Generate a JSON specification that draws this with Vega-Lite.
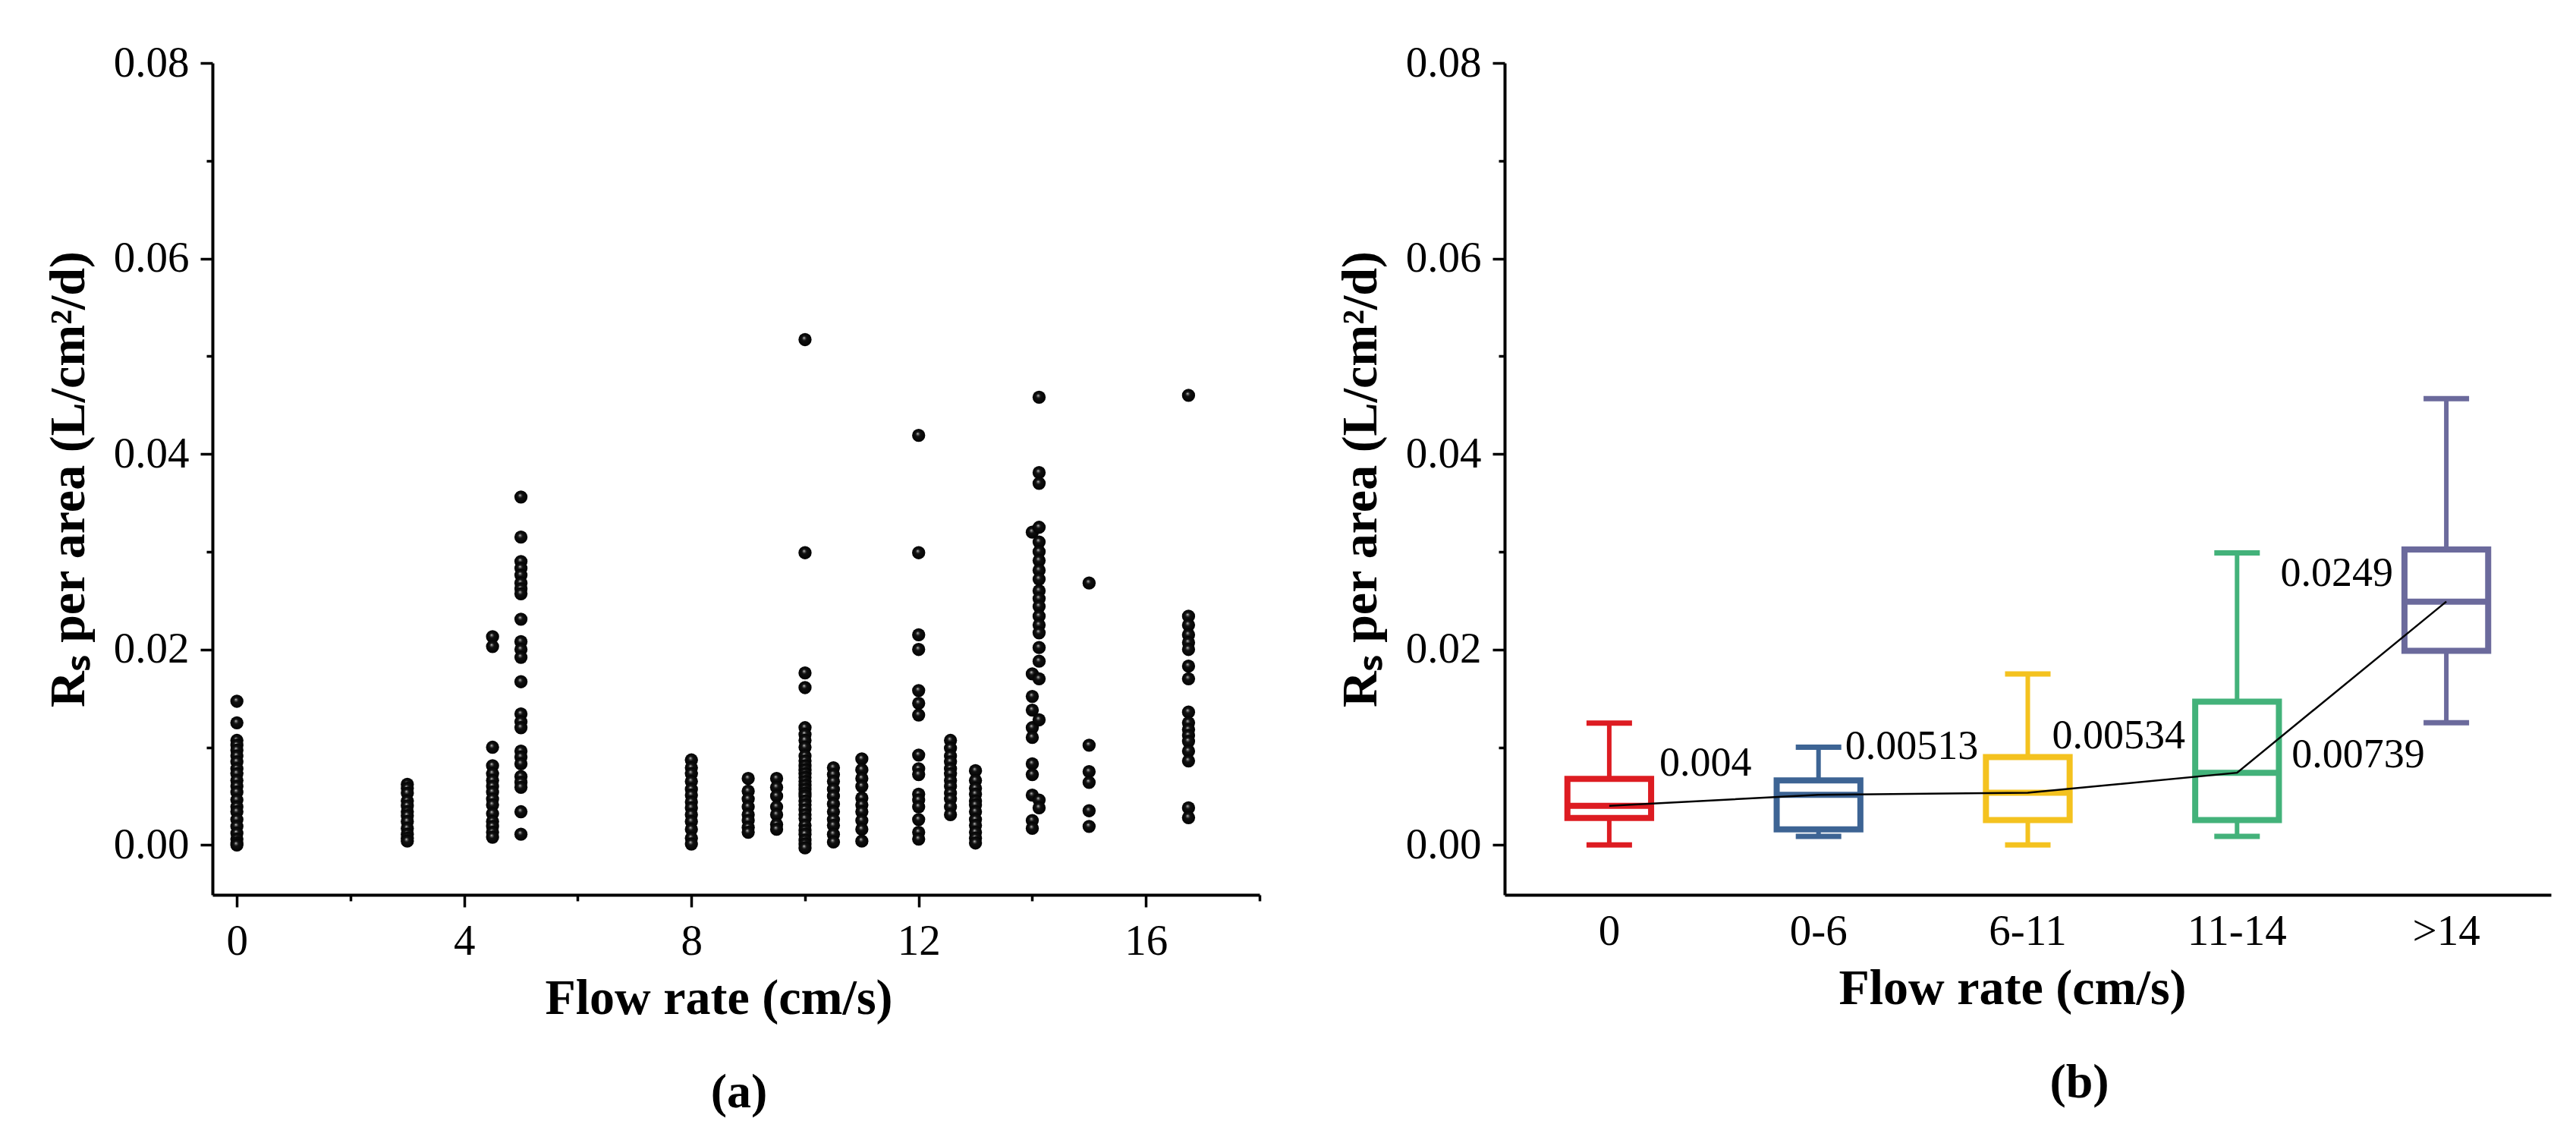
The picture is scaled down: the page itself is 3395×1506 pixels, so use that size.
{
  "$schema": "https://vega.github.io/schema/vega-lite/v6.json",
  "background": "white",
  "padding": {"left": 57, "top": 54, "right": 20, "bottom": 10},
  "spacing": 98,
  "config": {
    "font": "Liberation Serif",
    "view": {"stroke": null},
    "axis": {
      "grid": false,
      "domainColor": "black",
      "domainWidth": 4,
      "tickColor": "black",
      "tickWidth": 3.5,
      "labelColor": "black",
      "labelFont": "Liberation Serif",
      "labelFontSize": 57,
      "titleFont": "Liberation Serif",
      "titleFontSize": 66,
      "titleFontWeight": "bold",
      "titleColor": "black"
    },
    "title": {"font": "Liberation Serif", "fontSize": 64, "fontWeight": "bold", "color": "black"}
  },
  "hconcat": [
    {
      "width": 1380,
      "height": 1096,
      "title": {"text": "(a)", "orient": "bottom", "anchor": "middle", "frame": "group", "offset": 60, "dx": 4},
      "data": {
        "values": [
          {"x": 0, "y": 0.0147}, {"x": 0, "y": 0.0125}, {"x": 0, "y": 0.0107}, {"x": 0, "y": 0.0102}, {"x": 0, "y": 0.0097}, {"x": 0, "y": 0.0091}, {"x": 0, "y": 0.0085}, {"x": 0, "y": 0.0078}, {"x": 0, "y": 0.0073}, {"x": 0, "y": 0.0066}, {"x": 0, "y": 0.006}, {"x": 0, "y": 0.0054}, {"x": 0, "y": 0.0046}, {"x": 0, "y": 0.0039}, {"x": 0, "y": 0.0034}, {"x": 0, "y": 0.0026}, {"x": 0, "y": 0.0019}, {"x": 0, "y": 0.0012}, {"x": 0, "y": 0.0006}, {"x": 0, "y": 0.0002}, {"x": 0, "y": 0.0},
          {"x": 3, "y": 0.0062}, {"x": 3, "y": 0.0058}, {"x": 3, "y": 0.0053}, {"x": 3, "y": 0.0045}, {"x": 3, "y": 0.004}, {"x": 3, "y": 0.0034}, {"x": 3, "y": 0.003}, {"x": 3, "y": 0.0024}, {"x": 3, "y": 0.0017}, {"x": 3, "y": 0.0011}, {"x": 3, "y": 0.0007}, {"x": 3, "y": 0.0004},
          {"x": 4.5, "y": 0.0213}, {"x": 4.5, "y": 0.0203}, {"x": 4.5, "y": 0.01}, {"x": 4.5, "y": 0.0081}, {"x": 4.5, "y": 0.0073}, {"x": 4.5, "y": 0.0066}, {"x": 4.5, "y": 0.006}, {"x": 4.5, "y": 0.0054}, {"x": 4.5, "y": 0.0047}, {"x": 4.5, "y": 0.0041}, {"x": 4.5, "y": 0.0032}, {"x": 4.5, "y": 0.0024}, {"x": 4.5, "y": 0.0019}, {"x": 4.5, "y": 0.0013}, {"x": 4.5, "y": 0.0008},
          {"x": 5, "y": 0.0356}, {"x": 5, "y": 0.0315}, {"x": 5, "y": 0.029}, {"x": 5, "y": 0.0283}, {"x": 5, "y": 0.0276}, {"x": 5, "y": 0.0268}, {"x": 5, "y": 0.0262}, {"x": 5, "y": 0.0257}, {"x": 5, "y": 0.0231}, {"x": 5, "y": 0.0208}, {"x": 5, "y": 0.02}, {"x": 5, "y": 0.0192}, {"x": 5, "y": 0.0167}, {"x": 5, "y": 0.0134}, {"x": 5, "y": 0.0126}, {"x": 5, "y": 0.012}, {"x": 5, "y": 0.0096}, {"x": 5, "y": 0.009}, {"x": 5, "y": 0.0083}, {"x": 5, "y": 0.007}, {"x": 5, "y": 0.0064}, {"x": 5, "y": 0.0059}, {"x": 5, "y": 0.0034}, {"x": 5, "y": 0.0011},
          {"x": 8, "y": 0.0087}, {"x": 8, "y": 0.0079}, {"x": 8, "y": 0.0073}, {"x": 8, "y": 0.0065}, {"x": 8, "y": 0.0057}, {"x": 8, "y": 0.0051}, {"x": 8, "y": 0.0044}, {"x": 8, "y": 0.0038}, {"x": 8, "y": 0.0031}, {"x": 8, "y": 0.0024}, {"x": 8, "y": 0.0016}, {"x": 8, "y": 0.0007}, {"x": 8, "y": 0.0001},
          {"x": 9, "y": 0.0068}, {"x": 9, "y": 0.0055}, {"x": 9, "y": 0.0047}, {"x": 9, "y": 0.0039}, {"x": 9, "y": 0.0031}, {"x": 9, "y": 0.0025}, {"x": 9, "y": 0.0018}, {"x": 9, "y": 0.0013},
          {"x": 9.5, "y": 0.0068}, {"x": 9.5, "y": 0.0059}, {"x": 9.5, "y": 0.005}, {"x": 9.5, "y": 0.0039}, {"x": 9.5, "y": 0.0031}, {"x": 9.5, "y": 0.0021}, {"x": 9.5, "y": 0.0016},
          {"x": 10, "y": 0.0517}, {"x": 10, "y": 0.0299}, {"x": 10, "y": 0.0176}, {"x": 10, "y": 0.0161}, {"x": 10, "y": 0.012}, {"x": 10, "y": 0.0113}, {"x": 10, "y": 0.0107}, {"x": 10, "y": 0.01}, {"x": 10, "y": 0.0091}, {"x": 10, "y": 0.0086}, {"x": 10, "y": 0.0081}, {"x": 10, "y": 0.0077}, {"x": 10, "y": 0.0073}, {"x": 10, "y": 0.0069}, {"x": 10, "y": 0.0065}, {"x": 10, "y": 0.0061}, {"x": 10, "y": 0.0057}, {"x": 10, "y": 0.0053}, {"x": 10, "y": 0.005}, {"x": 10, "y": 0.0045}, {"x": 10, "y": 0.0041}, {"x": 10, "y": 0.0036}, {"x": 10, "y": 0.0031}, {"x": 10, "y": 0.0027}, {"x": 10, "y": 0.002}, {"x": 10, "y": 0.0015}, {"x": 10, "y": 0.0011}, {"x": 10, "y": 0.0005}, {"x": 10, "y": 0.0001}, {"x": 10, "y": -0.0003},
          {"x": 10.5, "y": 0.0079}, {"x": 10.5, "y": 0.0072}, {"x": 10.5, "y": 0.0065}, {"x": 10.5, "y": 0.0057}, {"x": 10.5, "y": 0.005}, {"x": 10.5, "y": 0.0042}, {"x": 10.5, "y": 0.0034}, {"x": 10.5, "y": 0.0026}, {"x": 10.5, "y": 0.002}, {"x": 10.5, "y": 0.0011}, {"x": 10.5, "y": 0.0003},
          {"x": 11, "y": 0.0088}, {"x": 11, "y": 0.0077}, {"x": 11, "y": 0.0068}, {"x": 11, "y": 0.006}, {"x": 11, "y": 0.0048}, {"x": 11, "y": 0.0041}, {"x": 11, "y": 0.0034}, {"x": 11, "y": 0.0025}, {"x": 11, "y": 0.0016}, {"x": 11, "y": 0.0004},
          {"x": 12, "y": 0.0419}, {"x": 12, "y": 0.0299}, {"x": 12, "y": 0.0215}, {"x": 12, "y": 0.02}, {"x": 12, "y": 0.0158}, {"x": 12, "y": 0.0145}, {"x": 12, "y": 0.0133}, {"x": 12, "y": 0.0092}, {"x": 12, "y": 0.0078}, {"x": 12, "y": 0.0072}, {"x": 12, "y": 0.0052}, {"x": 12, "y": 0.0046}, {"x": 12, "y": 0.0039}, {"x": 12, "y": 0.0026}, {"x": 12, "y": 0.0013}, {"x": 12, "y": 0.0006},
          {"x": 12.56, "y": 0.0107}, {"x": 12.56, "y": 0.0099}, {"x": 12.56, "y": 0.0091}, {"x": 12.56, "y": 0.0085}, {"x": 12.56, "y": 0.0078}, {"x": 12.56, "y": 0.0073}, {"x": 12.56, "y": 0.0066}, {"x": 12.56, "y": 0.006}, {"x": 12.56, "y": 0.0053}, {"x": 12.56, "y": 0.0047}, {"x": 12.56, "y": 0.0039}, {"x": 12.56, "y": 0.0031},
          {"x": 13, "y": 0.0076}, {"x": 13, "y": 0.0066}, {"x": 13, "y": 0.0058}, {"x": 13, "y": 0.0052}, {"x": 13, "y": 0.0045}, {"x": 13, "y": 0.0041}, {"x": 13, "y": 0.0034}, {"x": 13, "y": 0.0026}, {"x": 13, "y": 0.002}, {"x": 13, "y": 0.0013}, {"x": 13, "y": 0.0007}, {"x": 13, "y": 0.0002},
          {"x": 14, "y": 0.032}, {"x": 14, "y": 0.0175}, {"x": 14, "y": 0.0152}, {"x": 14, "y": 0.0138}, {"x": 14, "y": 0.012}, {"x": 14, "y": 0.011}, {"x": 14, "y": 0.0083}, {"x": 14, "y": 0.0072}, {"x": 14, "y": 0.0051}, {"x": 14, "y": 0.0025}, {"x": 14, "y": 0.0017},
          {"x": 14.12, "y": 0.0458}, {"x": 14.12, "y": 0.0381}, {"x": 14.12, "y": 0.037}, {"x": 14.12, "y": 0.0325}, {"x": 14.12, "y": 0.031}, {"x": 14.12, "y": 0.03}, {"x": 14.12, "y": 0.0291}, {"x": 14.12, "y": 0.0281}, {"x": 14.12, "y": 0.0272}, {"x": 14.12, "y": 0.026}, {"x": 14.12, "y": 0.0252}, {"x": 14.12, "y": 0.0244}, {"x": 14.12, "y": 0.0234}, {"x": 14.12, "y": 0.0225}, {"x": 14.12, "y": 0.0217}, {"x": 14.12, "y": 0.0202}, {"x": 14.12, "y": 0.0188}, {"x": 14.12, "y": 0.017}, {"x": 14.12, "y": 0.0128}, {"x": 14.12, "y": 0.0046}, {"x": 14.12, "y": 0.0038},
          {"x": 15, "y": 0.0268}, {"x": 15, "y": 0.0102}, {"x": 15, "y": 0.0075}, {"x": 15, "y": 0.0064}, {"x": 15, "y": 0.0035}, {"x": 15, "y": 0.0019},
          {"x": 16.75, "y": 0.046}, {"x": 16.75, "y": 0.0234}, {"x": 16.75, "y": 0.0225}, {"x": 16.75, "y": 0.0215}, {"x": 16.75, "y": 0.0207}, {"x": 16.75, "y": 0.02}, {"x": 16.75, "y": 0.0183}, {"x": 16.75, "y": 0.017}, {"x": 16.75, "y": 0.0136}, {"x": 16.75, "y": 0.0125}, {"x": 16.75, "y": 0.0118}, {"x": 16.75, "y": 0.0112}, {"x": 16.75, "y": 0.0106}, {"x": 16.75, "y": 0.0096}, {"x": 16.75, "y": 0.0086}, {"x": 16.75, "y": 0.0038}, {"x": 16.75, "y": 0.0028}
        ]
      },
      "mark": {
        "type": "circle",
        "size": 300,
        "opacity": 1,
        "fill": {
          "gradient": "radial",
          "x1": 0.42, "y1": 0.36, "r1": 0,
          "x2": 0.5, "y2": 0.5, "r2": 0.55,
          "stops": [
            {"offset": 0, "color": "#d8d8d8"},
            {"offset": 0.14, "color": "#606060"},
            {"offset": 0.32, "color": "#111111"},
            {"offset": 1, "color": "#000000"}
          ]
        }
      },
      "encoding": {
        "x": {
          "field": "x",
          "type": "quantitative",
          "scale": {"domain": [-0.43, 18], "nice": false, "zero": false},
          "axis": {
            "title": "Flow rate (cm/s)",
            "titleX": 667,
            "values": [0, 2, 4, 6, 8, 10, 12, 14, 16, 18],
            "labelExpr": "datum.value % 4 == 0 ? datum.label : ''",
            "tickSize": {"condition": {"test": "datum.value % 4 == 0", "value": 16}, "value": 8},
            "labelPadding": 17,
            "titlePadding": 15
          }
        },
        "y": {
          "field": "y",
          "type": "quantitative",
          "scale": {"domain": [-0.0051, 0.08], "nice": false, "zero": false},
          "axis": {
            "title": "Rₛ per area (L/cm²/d)",
            "values": [0, 0.01, 0.02, 0.03, 0.04, 0.05, 0.06, 0.07, 0.08],
            "labelExpr": "round(datum.value * 100) % 2 == 0 ? format(datum.value, '.2f') : ''",
            "tickSize": {"condition": {"test": "round(datum.value * 100) % 2 == 0", "value": 16}, "value": 8},
            "labelPadding": 15,
            "titlePadding": 25
          }
        }
      }
    },
    {
      "width": 1379,
      "height": 1096,
      "title": {"text": "(b)", "orient": "bottom", "anchor": "middle", "frame": "group", "offset": 60, "dx": 68},
      "data": {
        "values": [
          {"cat": "0", "lower": 0.0, "q1": 0.00277, "median": 0.004, "q3": 0.00677, "upper": 0.01247, "label": "0.004"},
          {"cat": "0-6", "lower": 0.00087, "q1": 0.0016, "median": 0.00513, "q3": 0.0066, "upper": 0.01, "label": "0.00513"},
          {"cat": "6-11", "lower": 0.0, "q1": 0.00255, "median": 0.00534, "q3": 0.009, "upper": 0.0175, "label": "0.00534"},
          {"cat": "11-14", "lower": 0.00087, "q1": 0.00255, "median": 0.00739, "q3": 0.01467, "upper": 0.02988, "label": "0.00739"},
          {"cat": ">14", "lower": 0.0125, "q1": 0.01987, "median": 0.0249, "q3": 0.03023, "upper": 0.04566, "label": "0.0249"}
        ]
      },
      "encoding": {
        "x": {
          "field": "cat",
          "type": "nominal",
          "scale": {"domain": ["0", "0-6", "6-11", "11-14", ">14"], "paddingInner": 0, "paddingOuter": 0},
          "axis": {"title": "Flow rate (cm/s)", "titleX": 669, "ticks": false, "labelAngle": 0, "labelPadding": 20, "titlePadding": 15}
        }
      },
      "layer": [
        {
          "mark": {"type": "rule", "strokeWidth": 6, "opacity": 1},
          "encoding": {
            "y": {
              "field": "lower",
              "type": "quantitative",
              "scale": {"domain": [-0.0051, 0.08], "nice": false, "zero": false},
              "axis": {
                "title": "Rₛ per area (L/cm²/d)",
                "values": [0, 0.01, 0.02, 0.03, 0.04, 0.05, 0.06, 0.07, 0.08],
                "labelExpr": "round(datum.value * 100) % 2 == 0 ? format(datum.value, '.2f') : ''",
                "tickSize": {"condition": {"test": "round(datum.value * 100) % 2 == 0", "value": 16}, "value": 8},
                "labelPadding": 15,
                "titlePadding": 25
              }
            },
            "y2": {"field": "upper"},
            "color": {
              "field": "cat",
              "type": "nominal",
              "scale": {"domain": ["0", "0-6", "6-11", "11-14", ">14"], "range": ["#DD1C22", "#3D6494", "#F4C21F", "#43B27A", "#6B6A9C"]},
              "legend": null
            }
          }
        },
        {
          "mark": {"type": "bar", "fill": "white", "strokeWidth": 8, "opacity": 1, "width": {"band": 0.4}},
          "encoding": {
            "y": {"field": "q1", "type": "quantitative", "title": "Rₛ per area (L/cm²/d)"},
            "y2": {"field": "q3"},
            "stroke": {"field": "cat", "type": "nominal", "scale": {"domain": ["0", "0-6", "6-11", "11-14", ">14"], "range": ["#DD1C22", "#3D6494", "#F4C21F", "#43B27A", "#6B6A9C"]}, "legend": null}
          }
        },
        {
          "mark": {"type": "tick", "size": 112, "thickness": 8, "opacity": 1},
          "encoding": {
            "y": {"field": "median", "type": "quantitative", "title": "Rₛ per area (L/cm²/d)"},
            "color": {"field": "cat", "type": "nominal", "legend": null}
          }
        },
        {
          "mark": {"type": "tick", "size": 60, "thickness": 7, "opacity": 1},
          "encoding": {
            "y": {"field": "upper", "type": "quantitative", "title": "Rₛ per area (L/cm²/d)"},
            "color": {"field": "cat", "type": "nominal", "legend": null}
          }
        },
        {
          "mark": {"type": "tick", "size": 60, "thickness": 7, "opacity": 1},
          "encoding": {
            "y": {"field": "lower", "type": "quantitative", "title": "Rₛ per area (L/cm²/d)"},
            "color": {"field": "cat", "type": "nominal", "legend": null}
          }
        },
        {
          "mark": {"type": "line", "color": "black", "strokeWidth": 2.5},
          "encoding": {
            "y": {"field": "median", "type": "quantitative", "title": "Rₛ per area (L/cm²/d)"}
          }
        },
        {
          "transform": [{"filter": "datum.cat == '0'"}],
          "mark": {"type": "text", "align": "left", "baseline": "middle", "fontSize": 54, "color": "black", "dx": 66, "dy": -56},
          "encoding": {"y": {"field": "median", "type": "quantitative"}, "text": {"field": "label"}}
        },
        {
          "transform": [{"filter": "datum.cat == '0-6'"}],
          "mark": {"type": "text", "align": "left", "baseline": "middle", "fontSize": 54, "color": "black", "dx": 35, "dy": -63},
          "encoding": {"y": {"field": "median", "type": "quantitative"}, "text": {"field": "label"}}
        },
        {
          "transform": [{"filter": "datum.cat == '6-11'"}],
          "mark": {"type": "text", "align": "left", "baseline": "middle", "fontSize": 54, "color": "black", "dx": 32, "dy": -75},
          "encoding": {"y": {"field": "median", "type": "quantitative"}, "text": {"field": "label"}}
        },
        {
          "transform": [{"filter": "datum.cat == '11-14'"}],
          "mark": {"type": "text", "align": "left", "baseline": "middle", "fontSize": 54, "color": "black", "dx": 72, "dy": -23},
          "encoding": {"y": {"field": "median", "type": "quantitative"}, "text": {"field": "label"}}
        },
        {
          "transform": [{"filter": "datum.cat == '>14'"}],
          "mark": {"type": "text", "align": "right", "baseline": "middle", "fontSize": 54, "color": "black", "dx": -70, "dy": -37},
          "encoding": {"y": {"field": "median", "type": "quantitative"}, "text": {"field": "label"}}
        }
      ]
    }
  ]
}
